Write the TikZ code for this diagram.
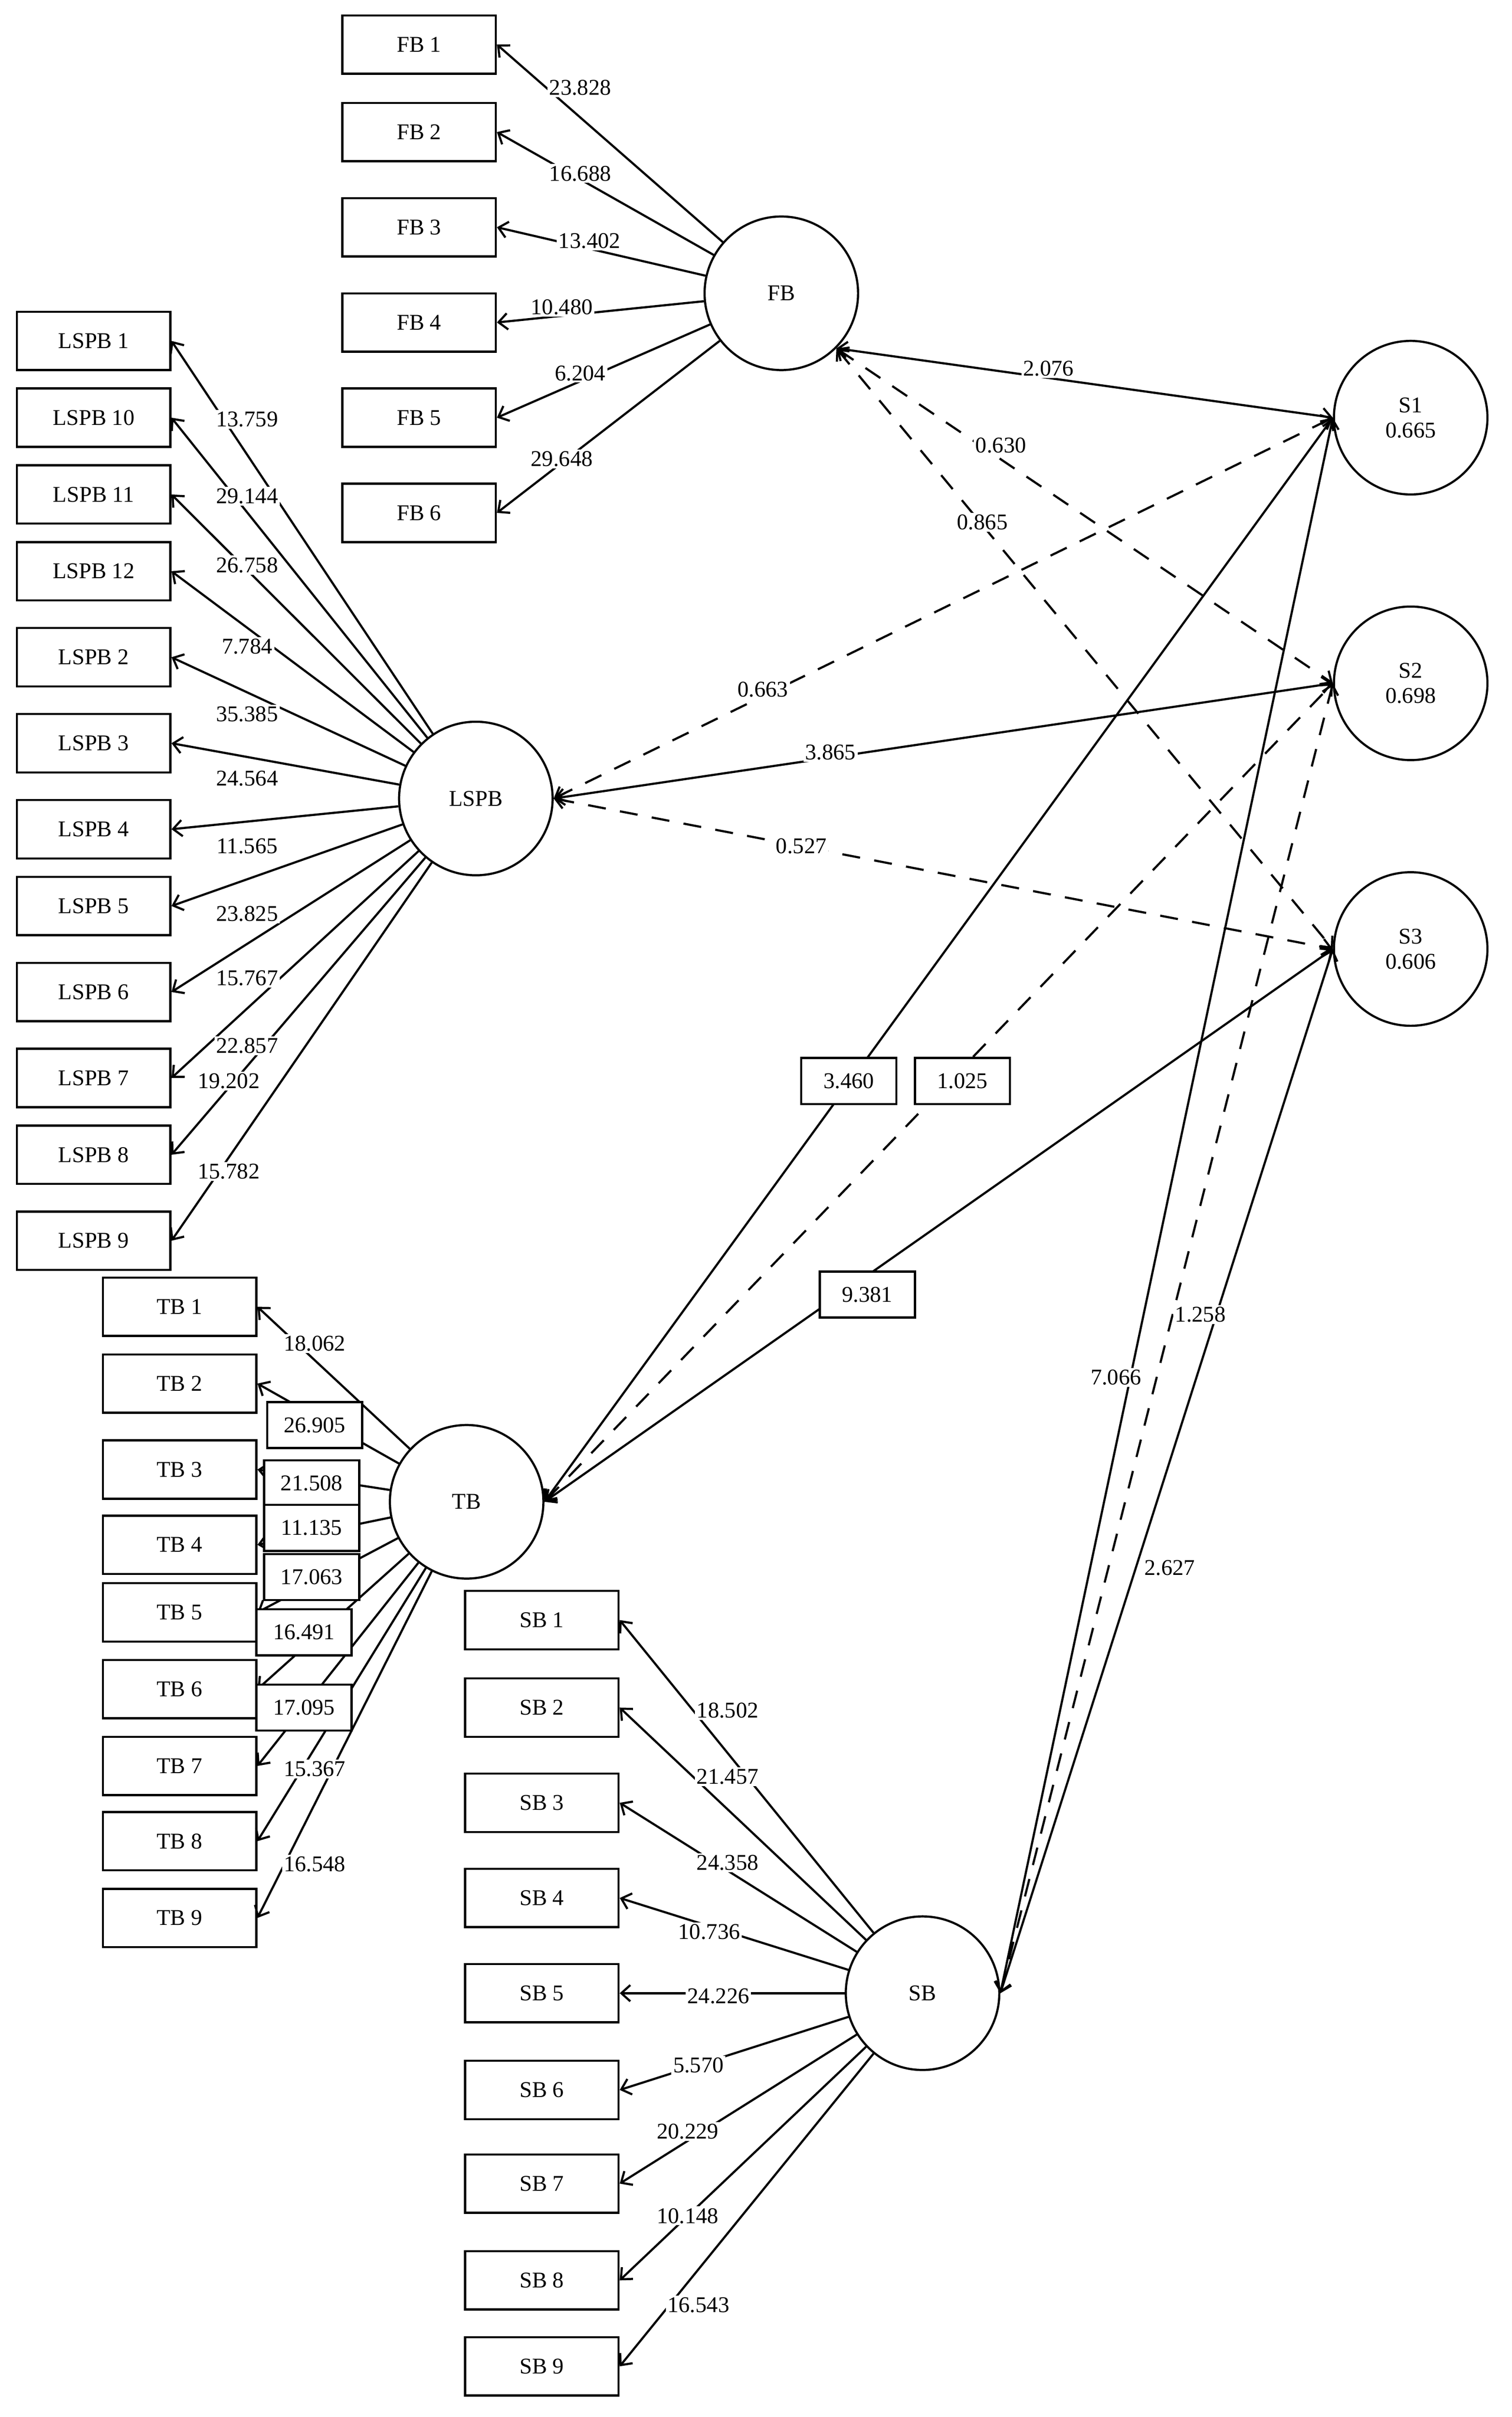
\documentclass[tikz,border=0pt]{standalone}
\usepackage{fontspec}
\setmainfont{Liberation Serif}
\usepackage{tikz}
\usetikzlibrary{arrows.meta}

\tikzset{
  ind/.style={draw,minimum width=3cm,minimum height=1.14cm,line width=1.2pt},
  lat/.style={draw,circle,minimum size=3cm,inner sep=0pt,line width=1.2pt,align=center},
  lbl/.style={fill=white,inner sep=1pt},
  blbl/.style={draw,fill=white,minimum width=1.86cm,minimum height=0.9cm,inner sep=1pt,line width=1.2pt},
  load/.style={line width=1.2pt,-{Straight Barb[length=5pt,width=9pt]}},
  path/.style={line width=1.2pt,{Straight Barb[length=5pt,width=9pt]}-{Straight Barb[length=5pt,width=9pt]}},
  dpath/.style={path,dash pattern=on 10pt off 8pt}
}

\begin{document}
\begin{tikzpicture}[x=0.03cm,y=-0.03cm,font=\fontsize{12.5}{14}\selectfont]
\useasboundingbox (0,0) rectangle (985,1574);

% latent variables
\node[lat](FB) at (509,191) {FB};
\node[lat](LSPB) at (310,520) {LSPB};
\node[lat](TB) at (304,978) {TB};
\node[lat](SB) at (601,1298) {SB};
\node[lat](S1) at (919,272) {S1\\0.665};
\node[lat](S2) at (919,445) {S2\\0.698};
\node[lat](S3) at (919,618) {S3\\0.606};

% FB indicators
\node[ind](FB1) at (273,29) {FB 1};
\node[ind](FB2) at (273,86) {FB 2};
\node[ind](FB3) at (273,148) {FB 3};
\node[ind](FB4) at (273,210) {FB 4};
\node[ind](FB5) at (273,272) {FB 5};
\node[ind](FB6) at (273,334) {FB 6};
\draw[load] (FB) -- (FB1.east);
\draw[load] (FB) -- (FB2.east);
\draw[load] (FB) -- (FB3.east);
\draw[load] (FB) -- (FB4.east);
\draw[load] (FB) -- (FB5.east);
\draw[load] (FB) -- (FB6.east);
\node[lbl](lfb1) at (378,57) {23.828};
\node[lbl](lfb2) at (378,113) {16.688};
\node[lbl](lfb3) at (384,157) {13.402};
\node[lbl](lfb4) at (366,200) {10.480};
\node[lbl](lfb5) at (378,243) {6.204};
\node[lbl](lfb6) at (366,299) {29.648};

% LSPB indicators
\node[ind](LSPB1) at (61,222) {LSPB 1};
\node[ind](LSPB10) at (61,272) {LSPB 10};
\node[ind](LSPB11) at (61,322) {LSPB 11};
\node[ind](LSPB12) at (61,372) {LSPB 12};
\node[ind](LSPB2) at (61,428) {LSPB 2};
\node[ind](LSPB3) at (61,484) {LSPB 3};
\node[ind](LSPB4) at (61,540) {LSPB 4};
\node[ind](LSPB5) at (61,590) {LSPB 5};
\node[ind](LSPB6) at (61,646) {LSPB 6};
\node[ind](LSPB7) at (61,702) {LSPB 7};
\node[ind](LSPB8) at (61,752) {LSPB 8};
\node[ind](LSPB9) at (61,808) {LSPB 9};
\foreach \i in {1,10,11,12,2,3,4,5,6,7,8,9}
  \draw[load] (LSPB) -- (LSPB\i.east);
\node[lbl](ll1) at (161,273) {13.759};
\node[lbl](ll10) at (161,323) {29.144};
\node[lbl](ll11) at (161,368) {26.758};
\node[lbl](ll12) at (161,421) {7.784};
\node[lbl](ll2) at (161,465) {35.385};
\node[lbl](ll3) at (161,507) {24.564};
\node[lbl](ll4) at (161,551) {11.565};
\node[lbl](ll5) at (161,595) {23.825};
\node[lbl](ll6) at (161,637) {15.767};
\node[lbl](ll7) at (161,681) {22.857};
\node[lbl](ll8) at (149,704) {19.202};
\node[lbl](ll9) at (149,763) {15.782};

% TB indicators
\node[ind](TB1) at (117,851) {TB 1};
\node[ind](TB2) at (117,901) {TB 2};
\node[ind](TB3) at (117,957) {TB 3};
\node[ind](TB4) at (117,1006) {TB 4};
\node[ind](TB5) at (117,1050) {TB 5};
\node[ind](TB6) at (117,1100) {TB 6};
\node[ind](TB7) at (117,1150) {TB 7};
\node[ind](TB8) at (117,1199) {TB 8};
\node[ind](TB9) at (117,1249) {TB 9};
\foreach \i in {1,...,9}
  \draw[load] (TB) -- (TB\i.east);
\node[lbl](lt1) at (205,875) {18.062};
\node[blbl](lt2) at (205,928) {26.905};
\node[blbl](lt3) at (203,966) {21.508};
\node[blbl](lt4) at (203,995) {11.135};
\node[blbl](lt5) at (203,1027) {17.063};
\node[blbl](lt6) at (198,1063) {16.491};
\node[blbl](lt7) at (198,1112) {17.095};
\node[lbl](lt8) at (205,1152) {15.367};
\node[lbl](lt9) at (205,1214) {16.548};

% SB indicators
\node[ind](SB1) at (353,1055) {SB 1};
\node[ind](SB2) at (353,1112) {SB 2};
\node[ind](SB3) at (353,1174) {SB 3};
\node[ind](SB4) at (353,1236) {SB 4};
\node[ind](SB5) at (353,1298) {SB 5};
\node[ind](SB6) at (353,1361) {SB 6};
\node[ind](SB7) at (353,1422) {SB 7};
\node[ind](SB8) at (353,1485) {SB 8};
\node[ind](SB9) at (353,1541) {SB 9};
\foreach \i in {1,...,9}
  \draw[load] (SB) -- (SB\i.east);
\node[lbl](ls1) at (474,1114) {18.502};
\node[lbl](ls2) at (474,1157) {21.457};
\node[lbl](ls3) at (474,1213) {24.358};
\node[lbl](ls4) at (462,1258) {10.736};
\node[lbl](ls5) at (468,1300) {24.226};
\node[lbl](ls6) at (455,1345) {5.570};
\node[lbl](ls7) at (448,1388) {20.229};
\node[lbl](ls8) at (448,1443) {10.148};
\node[lbl](ls9) at (455,1501) {16.543};

% structural paths
\draw[path] (FB.-45) -- (S1.west);
\draw[dpath] (FB.-45) -- (S2.west);
\draw[dpath] (FB.-45) -- (S3.west);
\draw[dpath] (LSPB.east) -- (S1.west);
\draw[path] (LSPB.east) -- (S2.west);
\draw[dpath] (LSPB.east) -- (S3.west);
\draw[path] (TB.east) -- (S1.west);
\draw[dpath] (TB.east) -- (S2.west);
\draw[path] (TB.east) -- (S3.west);
\draw[path] (SB.east) -- (S1.west);
\draw[dpath] (SB.east) -- (S2.west);
\draw[path] (SB.east) -- (S3.west);
\node[lbl](p1) at (683,240) {2.076};
\node[lbl](p2) at (652,290) {0.630};
\node[lbl](p3) at (640,340) {0.865};
\node[lbl](p4) at (497,449) {0.663};
\node[lbl](p5) at (541,490) {3.865};
\node[lbl](p6) at (522,551) {0.527};
\node[blbl](p7) at (553,704) {3.460};
\node[blbl](p8) at (627,704) {1.025};
\node[blbl](p9) at (565,843) {9.381};
\node[lbl](p10) at (727,897) {7.066};
\node[lbl](p11) at (782,856) {1.258};
\node[lbl](p12) at (762,1021) {2.627};
\end{tikzpicture}
\end{document}
